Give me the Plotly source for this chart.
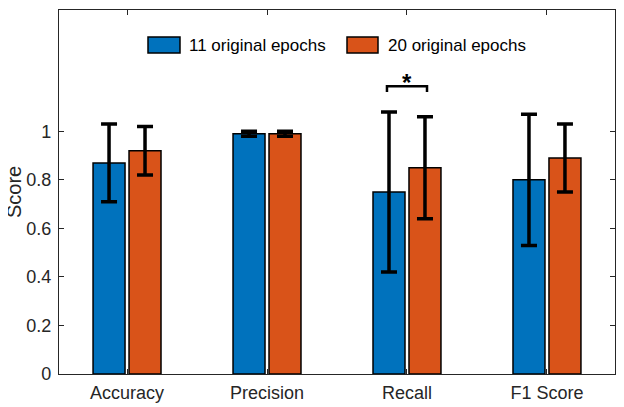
import plotly.graph_objects as go

categories = ["Accuracy", "Precision", "Recall", "F1 Score"]
series_names = ["11 original epochs", "20 original epochs"]
means_11 = [0.87, 0.99, 0.75, 0.80]
err_11 = [0.16, 0.01, 0.33, 0.27]
means_20 = [0.92, 0.99, 0.85, 0.89]
err_20 = [0.10, 0.01, 0.21, 0.14]
colors = ["#0072BD", "#D95319"]
y_ticks = [0, 0.2, 0.4, 0.6, 0.8, 1]
y_tick_labels = ["0", "0.2", "0.4", "0.6", "0.8", "1"]
y_title = "Score"
sig_pair = ("Recall", 1.186, 1.162, 1.200)  # category, bracket top, leg bottom, star y

FONT = "Liberation Sans, Arial, Helvetica, sans-serif"
AX = "#262626"

fig = go.Figure()
for name, m, e, c in [(series_names[0], means_11, err_11, colors[0]),
                      (series_names[1], means_20, err_20, colors[1])]:
    fig.add_trace(go.Bar(
        x=categories, y=m, name=name, showlegend=False,
        marker=dict(color=c, line=dict(color="black", width=1.5)),
        error_y=dict(type="data", array=e, visible=True, color="black",
                     thickness=3.5, width=8),
    ))

# significance bracket
ci = categories.index(sig_pair[0])
off = 0.143
x0, x1 = ci - off, ci + off
top, leg, stary = sig_pair[1], sig_pair[2], sig_pair[3]
fig.add_shape(type="path",
              path=f"M {x0} {leg} L {x0} {top} L {x1} {top} L {x1} {leg}",
              xref="x", yref="y", line=dict(color="black", width=2.5))
fig.add_annotation(x=ci, y=stary, xref="x", yref="y", text="<b>*</b>",
                   showarrow=False, font=dict(family=FONT, size=24, color="black"),
                   yanchor="middle")

# page body has an 8px margin: size the figure to fill the window
OFF = 8
W, H = 624 - OFF, 407 - OFF
L, R, T, B = 59 - OFF, 9, 10 - OFF, 33
pw, ph = W - L - R, H - T - B
def px(xp): return (xp - OFF - L) / pw
def py(yp): return 1 - (yp - OFF - T) / ph

# custom legend (page pixel positions)
leg_items = [(148, 180, 187, series_names[0], colors[0]),
             (347, 378, 386, series_names[1], colors[1])]
for xs0, xs1, xt, txt, c in leg_items:
    fig.add_shape(type="rect", xref="paper", yref="paper",
                  x0=px(xs0), x1=px(xs1), y0=py(53), y1=py(37),
                  fillcolor=c, line=dict(color="black", width=1.5))
    fig.add_annotation(xref="paper", yref="paper", x=px(xt), y=py(45),
                       text=txt, showarrow=False, xanchor="left", yanchor="middle",
                       font=dict(family=FONT, size=17, color="black"))

# y-axis title as rotated annotation
fig.add_annotation(xref="paper", yref="paper", x=px(14), y=py(192),
                   text=y_title, showarrow=False, textangle=-90,
                   xanchor="center", yanchor="middle",
                   font=dict(family=FONT, size=20, color=AX))

fig.update_layout(
    width=W, height=H,
    margin=dict(l=L, r=R, t=T, b=B, pad=0),
    plot_bgcolor="white", paper_bgcolor="white",
    barmode="group", bargap=0.486, bargroupgap=0.111,
    font=dict(family=FONT, size=18, color=AX),
    xaxis=dict(type="category", range=[-0.486, 3.486], showline=True,
               linecolor=AX, linewidth=1.3, mirror="ticks", ticks="inside",
               ticklen=5, tickcolor=AX, tickwidth=1, showgrid=False,
               ticklabelstandoff=2,
               automargin=False, tickfont=dict(size=18, color=AX)),
    yaxis=dict(range=[0, 1.5], tickvals=y_ticks, ticktext=y_tick_labels,
               showline=True, linecolor=AX, linewidth=1.3, mirror="ticks",
               ticks="inside", ticklen=5, tickcolor=AX, tickwidth=1, showgrid=False,
               ticklabelstandoff=3,
               zeroline=False, automargin=False, tickfont=dict(size=18, color=AX)),
)

fig.write_html("out.html")
